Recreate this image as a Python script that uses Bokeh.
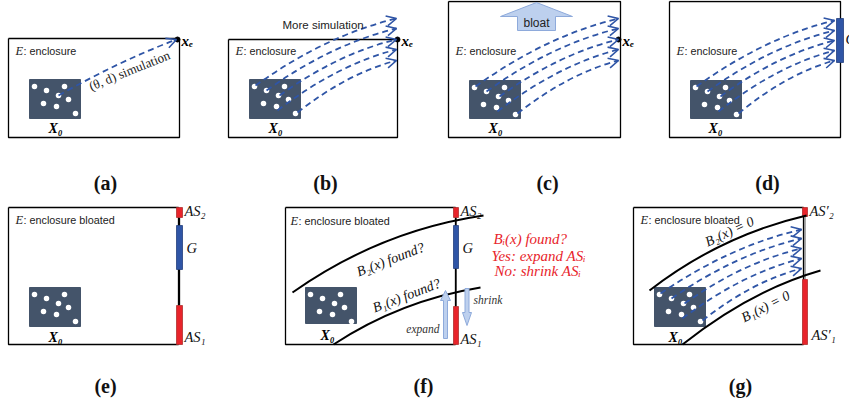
from bokeh.plotting import figure
from bokeh.models import Range1d, Arrow, OpenHead
from bokeh.core.properties import value
from bokeh.embed import file_html
from bokeh.resources import INLINE

# ---------------- diagram data (image pixel coordinates, y downwards) ----------------
panel_names = ["a", "b", "c", "d", "e", "f", "g"]
box_left = [8, 228, 448, 669, 8, 285, 633]
box_top = [38, 39, 1, 1, 207, 207, 207]
box_right = [179, 397, 620, 840, 178, 455, 803]
box_bottom = [137, 137, 137, 137, 344, 344, 344]

sq_left = [29, 249, 469, 690, 29, 305, 654]
sq_top = [79, 79, 80, 80, 287, 287, 287]
sq_w = 51
sq_h = [39, 39, 38, 38, 39, 36, 39]

dot_dx = [5, 17, 35, 29, 39, 14, 27, 46]
dot_dy = [7, 11, 7, 16, 20, 24, 27, 34]

sub_labels = ["(a)", "(b)", "(c)", "(d)", "(e)", "(f)", "(g)"]
sub_x = [105, 325, 547, 767, 105, 423, 740]
sub_y = [182, 182, 182, 182, 385, 385, 385]

enc_text = [": enclosure"] * 4 + [": enclosure bloated"] * 3
enc_x = [15, 235, 455, 676, 15, 290, 640]
enc_y = [50, 50, 50, 50, 219, 220, 219]

x0_x = [55, 275, 495, 715, 55, 327, 675]
x0_y = [128, 128, 128, 128, 337, 335, 337]

# simulation trajectories: start offsets from square corner, end points
sim_dx = [6, 17, 30, 28, 48]
sim_dy = [6, 11, 16, 31, 33]
sim_panels = ["b", "c", "d", "g"]
sim_end_x = [396, 618, 834, 801]
sim_end_y = [[18, 28, 39, 49, 60], [18, 28, 39, 49, 60], [20, 30, 40, 50, 60], [229, 238, 248, 258, 268]]
single_sim = dict(x0=58, y0=95, cx=120, cy=60, x1=176, y1=39)

xe_x = [177, 397, 618]
xe_y = [39, 39, 39]

# barrier curves (start, control, end)
b_curves_x = [[292, 380, 483], [333, 400, 480], [649, 720, 806], [682, 750, 820]]
b_curves_y = [[292, 230, 215], [344, 300, 287], [290, 235, 215], [344, 290, 270]]
b_labels = ["B₂(x) found?", "B₁(x) found?", "B₂(x) = 0", "B₁(x) = 0"]
b_label_x = [390, 406, 729, 765]
b_label_y = [259, 295, 231, 306]
b_label_ang = [21, 21, 25, 27]

# safety / goal bars: (x_left, x_right, y_top, y_bottom)
red_bars = [(176, 182, 207, 217), (176, 182, 305, 344), (453, 458, 207, 217), (453, 458, 306, 344),
            (802, 807, 207, 216), (802, 807, 279, 344)]
blue_bars = [(176, 182, 225, 269), (453, 458, 225, 268), (836, 843, 18, 62)]

RED = "#e8242b"
BLUE = "#2f55a6"
SLATE = "#44546a"
LIGHT = "#bdd0ee"
LIGHT_EDGE = "#8eaadb"

serif = value("Liberation Serif")
sans = value("Liberation Sans")

p = figure(width=849, height=407, output_backend="svg", toolbar_location=None,
           x_range=Range1d(0, 849), y_range=Range1d(407, 0), min_border=0)
p.axis.visible = False
p.grid.visible = False
p.outline_line_color = None
p.background_fill_color = "white"
p.border_fill_color = "white"

# enclosure boxes
for i in range(7):
    l, t, r, b = box_left[i], box_top[i], box_right[i], box_bottom[i]
    p.line([l, r, r, l, l], [t, t, b, b, t], line_color="black", line_width=1.3)

# bloat arrow (c)
p.patch([536, 572, 555, 555, 517, 517, 500], [2, 16, 16, 30, 30, 16, 16],
        fill_color=LIGHT, line_color=LIGHT_EDGE, line_width=1)
p.text([536], [22], text=["bloat"], text_font=sans, text_font_size="12px",
       text_align="center", text_baseline="middle", text_color="#222222")

# squares and dots
for i in range(7):
    p.quad(left=sq_left[i], right=sq_left[i] + sq_w, top=sq_top[i], bottom=sq_top[i] + sq_h[i],
           fill_color=SLATE, line_color=SLATE)
    p.scatter([sq_left[i] + dx for dx in dot_dx], [sq_top[i] + dy for dy in dot_dy],
              size=5.5, fill_color="white", line_color=None)


def sim_arrow(sx, sy, ex, ey, cx=None, cy=None):
    if cx is None:
        cx = sx + 0.5 * (ex - sx)
        cy = ey + 0.25 * (sy - ey)
    p.quadratic(x0=[sx], y0=[sy], x1=[ex], y1=[ey], cx=[cx], cy=[cy],
                line_color=BLUE, line_width=1.8, line_dash="6 4")
    dx, dy = ex - cx, ey - cy
    n = (dx * dx + dy * dy) ** 0.5
    p.add_layout(Arrow(x_start=ex - 3 * dx / n, y_start=ey - 3 * dy / n, x_end=ex, y_end=ey,
                       line_color=BLUE, line_width=1.5,
                       end=OpenHead(size=10, line_color=BLUE, line_width=1.6)))


sim_arrow(single_sim["x0"], single_sim["y0"], single_sim["x1"], single_sim["y1"],
          single_sim["cx"], single_sim["cy"])
for k, pn in enumerate(sim_panels):
    i = panel_names.index(pn)
    for j in range(5):
        sim_arrow(sq_left[i] + sim_dx[j], sq_top[i] + sim_dy[j], sim_end_x[k], sim_end_y[k][j])

# x_e points
p.scatter(xe_x, xe_y, size=5, fill_color="black", line_color="black")
p.text([x + 4 for x in xe_x], [y + 1 for y in xe_y], text=["xₑ"] * 3, text_font=serif,
       text_font_style="bold italic", text_font_size="15px", text_baseline="middle")

p.text([129], [70], text=["(θ, d) simulation"], text_font=serif, text_font_size="13px",
       text_align="center", text_baseline="middle", angle=22, angle_units="deg", text_color="#222222")
p.text([282], [24], text=["More simulation"], text_font=sans, text_font_size="11.5px",
       text_baseline="middle", text_color="#222222")

# enclosure labels
p.text(enc_x, enc_y, text=["E"] * 7, text_font=serif, text_font_style="italic",
       text_font_size="12.5px", text_baseline="middle", text_color="#222222")
p.text([x + 8 for x in enc_x], enc_y, text=enc_text, text_font=sans,
       text_font_size="10.8px", text_baseline="middle", text_color="#222222")

# X0 labels
p.text(x0_x, x0_y, text=["X₀"] * 7, text_font=serif, text_font_style="bold italic",
       text_font_size="14px", text_align="center", text_baseline="middle")

# right-edge segments and bars
p.line([179, 179], [217, 305], line_color="black", line_width=1.3)
p.line([455.5, 455.5], [217, 306], line_color="black", line_width=1.3)
p.line([804.5, 804.5], [216, 279], line_color="#555555", line_width=1)
for (l, r, t, b) in red_bars:
    p.quad(left=l, right=r, top=t, bottom=b, fill_color=RED, line_color="#b0302f", line_width=0.8)
for (l, r, t, b) in blue_bars:
    p.quad(left=l, right=r, top=t, bottom=b, fill_color=BLUE, line_color="#23407e", line_width=0.8)

# barrier curves
for cx_, cy_ in zip(b_curves_x, b_curves_y):
    p.quadratic(x0=[cx_[0]], y0=[cy_[0]], cx=[cx_[1]], cy=[cy_[1]], x1=[cx_[2]], y1=[cy_[2]],
                line_color="black", line_width=2)
p.text(b_label_x, b_label_y, text=b_labels, text_font=serif, text_font_style="italic",
       text_font_size="14px", text_align="center", text_baseline="middle",
       angle=[a * 3.14159 / 180 for a in b_label_ang], text_color="#111111")

# bar labels
as_x = [184, 184, 186, 460, 460, 462, 809, 811]
as_y = [210, 336, 247, 210, 338, 247, 210, 334]
as_t = ["AS₂", "AS₁", "G", "AS₂", "AS₁", "G", "AS′₂", "AS′₁"]
p.text(as_x, as_y, text=as_t, text_font=serif, text_font_style="italic", text_font_size="14.5px",
       text_baseline="middle", text_color="#111111")
p.text([845], [38], text=["G"], text_font=serif, text_font_style="italic", text_font_size="14.5px",
       text_baseline="middle", text_color="#111111")

# expand / shrink arrows (f)
p.patch([445, 450, 447, 447, 443, 443, 440], [290, 300, 300, 338, 338, 300, 300],
        fill_color=LIGHT, line_color=LIGHT_EDGE, line_width=1)
p.patch([466.5, 471, 468.5, 468.5, 464.5, 464.5, 462], [325, 312, 312, 288, 288, 312, 312],
        fill_color=LIGHT, line_color=LIGHT_EDGE, line_width=1)
p.text([439], [328], text=["expand"], text_font=serif, text_font_style="italic",
       text_font_size="11.5px", text_align="right", text_baseline="middle", text_color="#333333")
p.text([473], [299], text=["shrink"], text_font=serif, text_font_style="italic",
       text_font_size="11.5px", text_baseline="middle", text_color="#333333")

# red explanation (f)
p.text([493, 491, 494], [238, 255, 270],
       text=["Bᵢ(x) found?", "Yes: expand ASᵢ", "No: shrink ASᵢ"],
       text_font=serif, text_font_style="italic", text_font_size="15px",
       text_baseline="middle", text_color=RED)

# sub-figure labels
p.text(sub_x, sub_y, text=sub_labels, text_font=serif, text_font_style="bold",
       text_font_size="20px", text_align="center", text_baseline="middle", text_color="#111111")

open("out.html", "w").write(file_html(p, INLINE))
